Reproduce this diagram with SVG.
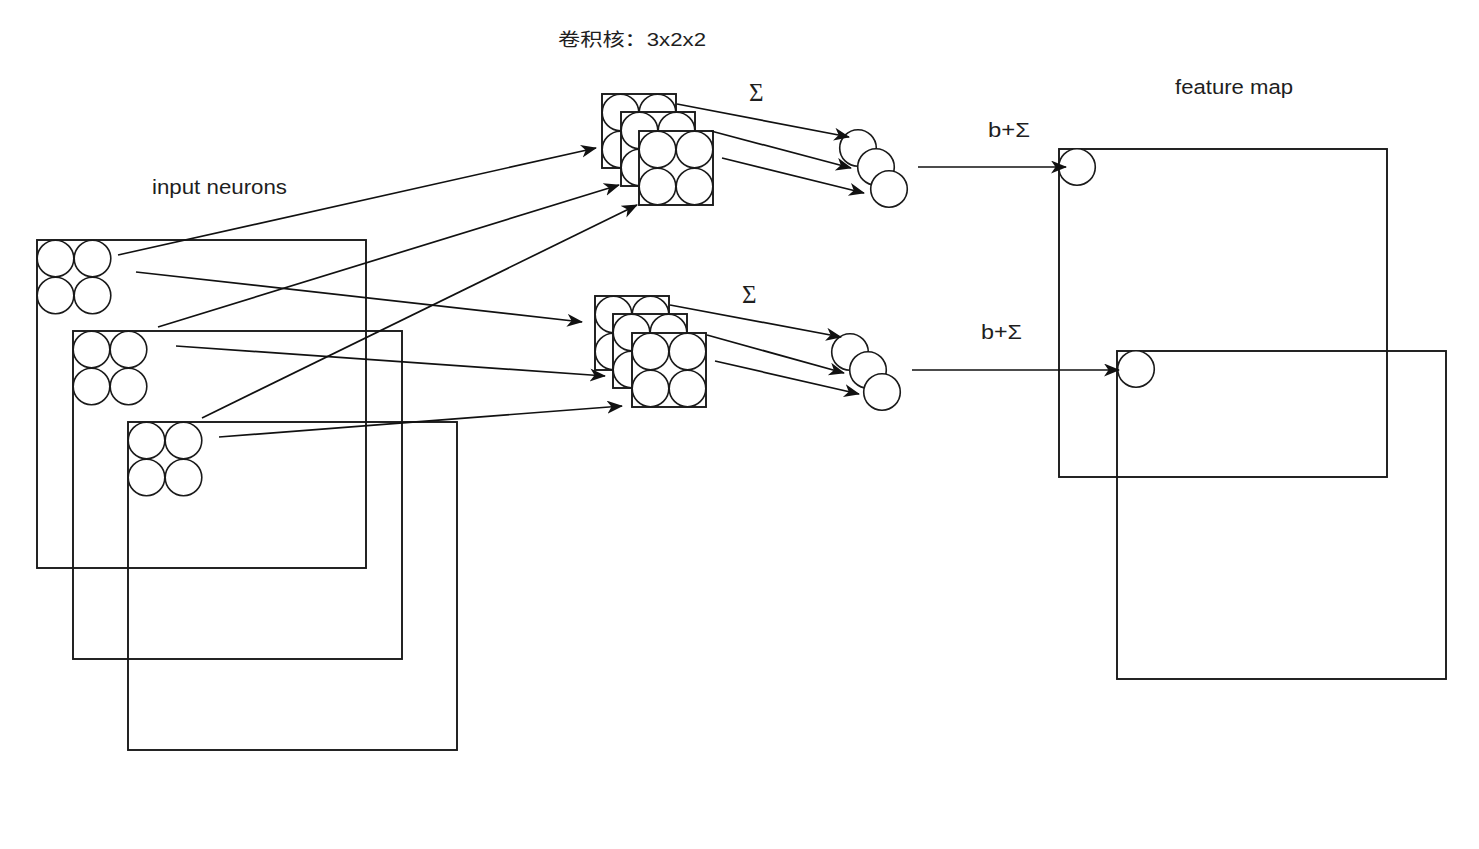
<svg xmlns="http://www.w3.org/2000/svg" width="1479" height="849" viewBox="0 0 1479 849">
  <style>
    .frame { fill: none; stroke: #1a1a1a; stroke-width: 1.9; }
    .sq { fill: #fff; stroke: #1a1a1a; stroke-width: 1.9; }
    .cell { fill: #fff; stroke: #1a1a1a; stroke-width: 1.6; }
    .link { fill: none; stroke: #111; stroke-width: 1.7; marker-end: url(#arrow); }
    .lbl { font-family: "Liberation Sans", Arial, "Noto Sans CJK SC", sans-serif; fill: #1e1e1e; }
    .sig { font-family: "Liberation Serif", "Times New Roman", serif; fill: #1e1e1e; }
  </style>
  <defs>
    <marker id="arrow" markerUnits="userSpaceOnUse" markerWidth="20" markerHeight="16" refX="15" refY="6.5" orient="auto">
      <path d="M0,0 L16,6.5 L0,13 L4.5,6.5 Z" fill="#111"/>
    </marker>
    <!-- 2x2 block of neurons, 74px square -->
    <g id="quad">
      <circle class="cell" cx="18.5" cy="18.5" r="18.3"/>
      <circle class="cell" cx="55.5" cy="18.5" r="18.3"/>
      <circle class="cell" cx="18.5" cy="55.5" r="18.3"/>
      <circle class="cell" cx="55.5" cy="55.5" r="18.3"/>
    </g>
    <g id="kernel">
      <rect class="sq" x="0" y="0" width="74" height="74"/>
      <use href="#quad"/>
    </g>
  </defs>

  <rect width="1479" height="849" fill="#fff"/>

  <!-- labels -->
  <text class="lbl" x="558" y="46" font-size="18" textLength="148" lengthAdjust="spacingAndGlyphs">卷积核：3x2x2</text>
  <text class="lbl" x="152" y="194" font-size="20.5" textLength="135" lengthAdjust="spacingAndGlyphs">input neurons</text>
  <text class="lbl" x="1175" y="94" font-size="20.5" textLength="118" lengthAdjust="spacingAndGlyphs">feature map</text>
  <text class="sig" x="749" y="101" font-size="25">Σ</text>
  <text class="sig" x="742" y="303" font-size="25">Σ</text>
  <text class="lbl" x="988" y="137" font-size="20.5" textLength="42" lengthAdjust="spacingAndGlyphs">b+Σ</text>
  <text class="lbl" x="981" y="339" font-size="20.5" textLength="41" lengthAdjust="spacingAndGlyphs">b+Σ</text>

  <!-- input channels -->
  <g id="input-1">
    <rect class="frame" x="37" y="240" width="329" height="328"/>
    <use href="#quad" x="37" y="240"/>
  </g>
  <g id="input-2">
    <rect class="frame" x="73" y="331" width="329" height="328"/>
    <use href="#quad" x="73" y="331"/>
  </g>
  <g id="input-3">
    <rect class="frame" x="128" y="422" width="329" height="328"/>
    <use href="#quad" x="128" y="422"/>
  </g>

  <!-- kernel stack, upper -->
  <g id="kernel-a">
    <use href="#kernel" x="602" y="94"/>
    <use href="#kernel" x="621" y="112"/>
    <use href="#kernel" x="639" y="131"/>
  </g>
  <!-- kernel stack, lower -->
  <g id="kernel-b">
    <use href="#kernel" x="595" y="296"/>
    <use href="#kernel" x="613" y="314"/>
    <use href="#kernel" x="632" y="333"/>
  </g>

  <!-- per-channel sums -->
  <g id="sum-a">
    <circle class="cell" cx="858" cy="148" r="18.3"/>
    <circle class="cell" cx="876" cy="167" r="18.3"/>
    <circle class="cell" cx="889" cy="189" r="18.3"/>
  </g>
  <g id="sum-b">
    <circle class="cell" cx="850" cy="352" r="18.3"/>
    <circle class="cell" cx="868" cy="370" r="18.3"/>
    <circle class="cell" cx="882" cy="392" r="18.3"/>
  </g>

  <!-- output feature maps -->
  <g id="feature-1">
    <rect class="frame" x="1059" y="149" width="328" height="328"/>
    <circle class="cell" cx="1077" cy="167" r="18.3"/>
  </g>
  <g id="feature-2">
    <rect class="frame" x="1117" y="351" width="329" height="328"/>
    <circle class="cell" cx="1136" cy="369" r="18.3"/>
  </g>

  <!-- connectors -->
  <g id="connectors">
    <line class="link" x1="118" y1="255" x2="596" y2="148"/>
    <line class="link" x1="136" y1="272" x2="582" y2="322"/>
    <line class="link" x1="158" y1="327" x2="619" y2="185"/>
    <line class="link" x1="176" y1="346" x2="605" y2="376"/>
    <line class="link" x1="202" y1="418" x2="637" y2="205"/>
    <line class="link" x1="219" y1="437" x2="622" y2="406"/>

    <line class="link" x1="677" y1="104" x2="849" y2="137"/>
    <line class="link" x1="711" y1="131" x2="851" y2="168"/>
    <line class="link" x1="722" y1="158" x2="864" y2="193"/>

    <line class="link" x1="670" y1="305" x2="841" y2="337"/>
    <line class="link" x1="707" y1="335" x2="844" y2="373"/>
    <line class="link" x1="715" y1="361" x2="859" y2="394"/>

    <line class="link" x1="918" y1="167" x2="1066" y2="167"/>
    <line class="link" x1="912" y1="370" x2="1119" y2="370"/>
  </g>
</svg>
